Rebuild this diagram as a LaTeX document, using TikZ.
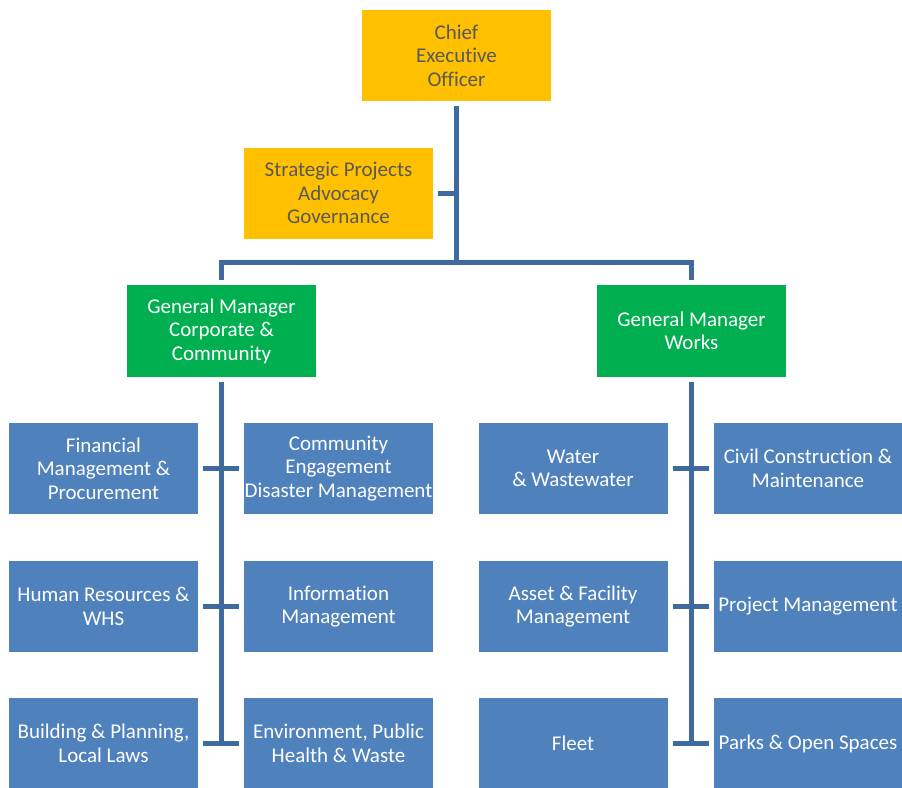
\documentclass[tikz,border=0pt]{standalone}
\usepackage{fontspec}
\setmainfont[Ligatures=NoCommon]{Carlito}
\definecolor{gold}{HTML}{FFC000}
\definecolor{goldtext}{HTML}{595959}
\definecolor{gmgreen}{HTML}{00B050}
\definecolor{boxblue}{HTML}{4F81BD}
\definecolor{linkblue}{HTML}{3F6A9F}
\begin{document}
\begin{tikzpicture}[x=1pt,y=-1pt,
  box/.style={rectangle,minimum width=189pt,minimum height=91pt,inner sep=0pt,outer sep=5pt,align=center,
    font=\fontsize{21}{23.5}\selectfont},
  execbox/.style={box,fill=gold,text=goldtext},
  gmbox/.style={box,fill=gmgreen,text=white,minimum height=92pt},
  unitbox/.style={box,fill=boxblue,text=white},
  link/.style={draw=linkblue,line width=5pt,line join=miter}]
\useasboundingbox (0,0) rectangle (902,787);
% executive
\node[execbox] (ceo) at (456.5,55.5) {Chief\\Executive\\Officer};
\node[execbox] (strat) at (338.5,193) {Strategic Projects\\Advocacy\\Governance};
% general managers
\node[gmbox] (gmc) at (221.5,331) {General Manager\\Corporate \&\\Community};
\node[gmbox] (gmw) at (691.5,331) {General Manager\\Works};
% units corporate
\node[unitbox] (c11) at (103.5,468.5) {Financial\\Management \&\\Procurement};
\node[unitbox] (c12) at (338.5,468.5) {Community\\Engagement\\Disaster Management};
\node[unitbox] (c21) at (103.5,606.5) {Human Resources \&\\WHS};
\node[unitbox] (c22) at (338.5,606.5) {Information\\Management};
\node[unitbox] (c31) at (103.5,743.5) {Building \& Planning,\\Local Laws};
\node[unitbox] (c32) at (338.5,743.5) {Environment, Public\\Health \& Waste};
% units works
\node[unitbox] (w11) at (573,468.5) {Water\\\& Wastewater};
\node[unitbox] (w12) at (808,468.5) {Civil Construction \&\\Maintenance};
\node[unitbox] (w21) at (573,606.5) {Asset \& Facility\\Management};
\node[unitbox] (w22) at (808,606.5) {Project Management};
\node[unitbox] (w31) at (573,743.5) {Fleet};
\node[unitbox] (w32) at (808,743.5) {Parks \& Open Spaces};
% connectors
\coordinate (hub) at (456.5,262);
\draw[link] (ceo.south) -- (hub);
\draw[link] (strat.east) -- (strat.east -| ceo.south);
\draw[link] (gmc.north) |- (hub) -| (gmw.north);
\draw[link] (gmc.south) -- (gmc.south |- c31.east);
\draw[link] (gmw.south) -- (gmw.south |- w31.east);
\draw[link] (c11.east) -- (c12.west);
\draw[link] (c21.east) -- (c22.west);
\draw[link] (c31.east) -- (c32.west);
\draw[link] (w11.east) -- (w12.west);
\draw[link] (w21.east) -- (w22.west);
\draw[link] (w31.east) -- (w32.west);
\end{tikzpicture}
\end{document}
